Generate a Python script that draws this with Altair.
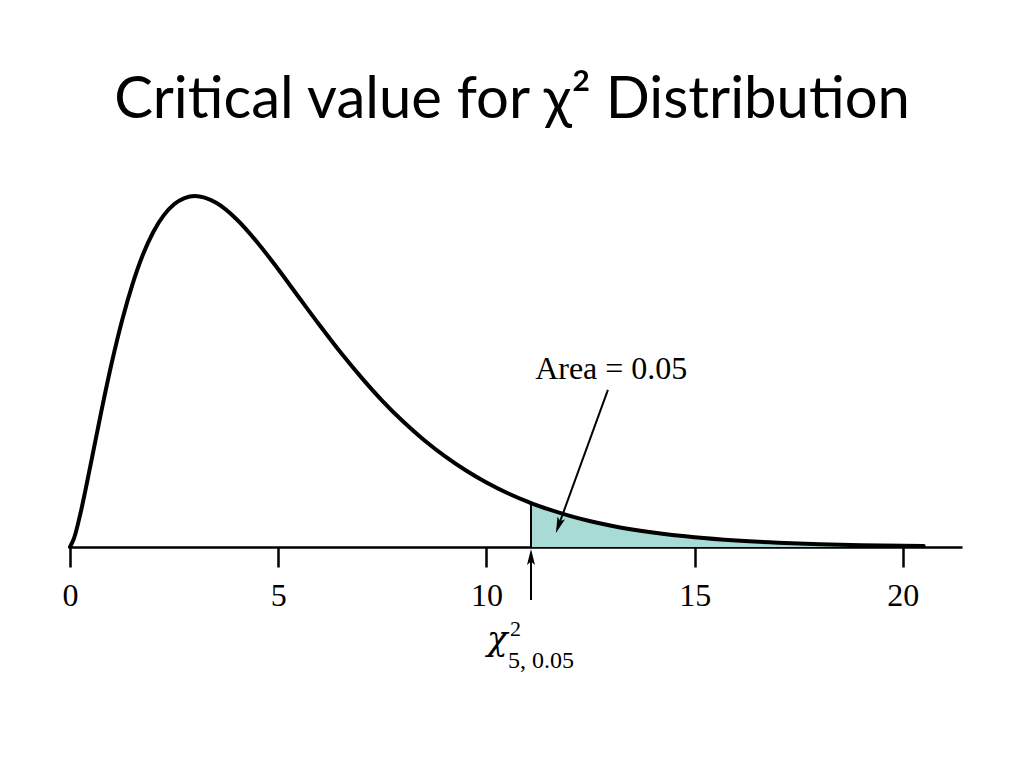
import altair as alt
import pandas as pd

# Chi-square (5 df) density
x_vals = [0, 0.1, 0.25, 0.5, 0.75, 1, 1.25, 1.5, 1.75, 2, 2.25, 2.5, 2.75, 3, 3.5, 4, 4.5,
          5, 5.5, 6, 6.5, 7, 7.5, 8, 8.5, 9, 9.5, 10, 10.5, 11, 11.07, 11.5, 12, 12.5,
          13, 13.5, 14, 15, 16, 17, 18, 19, 20, 20.5]
density = [0, 0.0040, 0.0147, 0.0366, 0.0594, 0.0807, 0.0995, 0.1154, 0.1284, 0.1384,
           0.1457, 0.1506, 0.1533, 0.1542, 0.1513, 0.1440, 0.1338,
           0.1220, 0.1096, 0.0973, 0.0854, 0.0744, 0.0642, 0.0551, 0.0470, 0.0399,
           0.0337, 0.0283, 0.0237, 0.0198, 0.0193, 0.0165, 0.0137, 0.01134,
           0.00937, 0.00772, 0.00635, 0.00427, 0.00285, 0.00189, 0.00125, 0.00082,
           0.00054, 0.00044]
tick_values = [0, 5, 10, 15, 20]
crit_value = 11.07
crit_density = 0.0193
title_text = "Critical value for χ² Distribution"
area_label = "Area = 0.05"

df = pd.DataFrame({"x": x_vals, "y": density})
tail = df[df["x"] >= crit_value]

W, H = 892, 397
xs = alt.Scale(domain=[0, 21.42], nice=False, zero=False)
ys = alt.Scale(domain=[0, 0.1744], nice=False, zero=False)
X = lambda f: alt.X(f, type="quantitative", scale=xs,
                    axis=alt.Axis(values=tick_values, title=None, grid=False,
                                  labelFont="Liberation Serif", labelFontSize=32,
                                  labelColor="black", labelPadding=13,
                                  tickColor="black", tickWidth=2.5, tickSize=20,
                                  domainColor="black", domainWidth=2.5,
                                  labelFlush=False, labelOverlap=False))
Y = lambda f: alt.Y(f, type="quantitative", scale=ys, axis=None)

area = alt.Chart(tail).mark_area(color="#a8dbd5", opacity=1).encode(
    x=X("x"), y=Y("y"))

crit_df = pd.DataFrame({"x": [crit_value], "y0": [0.0], "y1": [crit_density]})
crit_rule = alt.Chart(crit_df).mark_rule(color="black", strokeWidth=2).encode(
    x=X("x"), y=Y("y0"), y2="y1")

curve = alt.Chart(df).mark_line(color="black", strokeWidth=4, strokeCap="round",
                                interpolate="monotone").encode(x=X("x"), y=Y("y"))

arrow_path = "M0,-1L0.5,1L0,0.55L-0.5,1Z"

# arrow under the axis pointing to the critical value
below_rule = alt.Chart(crit_df).mark_rule(color="black", strokeWidth=2).encode(
    x=X("x"), y=alt.value(410), y2=alt.value(450))
below_head = alt.Chart(crit_df).mark_point(shape=arrow_path, filled=True, color="black",
                                           size=256, opacity=1).encode(
    x=X("x"), y=alt.value(407))

# arrow from the "Area" label into the shaded tail
arr_df = pd.DataFrame({"x": [12.917], "y": [0.0690], "x2": [11.733], "y2": [0.00945]})
area_rule = alt.Chart(arr_df).mark_rule(color="black", strokeWidth=2).encode(
    x=X("x"), y=Y("y"), x2="x2", y2="y2")
area_head = alt.Chart(arr_df).mark_point(shape=arrow_path, filled=True, color="black",
                                         size=256, opacity=1, angle=199.8).encode(
    x=X("x2"), y=Y("y2"))

lab_df = pd.DataFrame({"x": [11.17], "y": [0.0738], "t": [area_label]})
area_text = alt.Chart(lab_df).mark_text(font="Liberation Serif", fontSize=32, align="left",
                                        baseline="alphabetic", color="black").encode(
    x=X("x"), y=Y("y"), text="t")

chi_df = pd.DataFrame({"a": ["χ"], "b": ["2"], "c": ["5, 0.05"]})
chi_main = alt.Chart(chi_df).mark_text(font="DejaVu Serif", fontStyle="italic",
                                       fontSize=34, align="left", baseline="alphabetic",
                                       color="black").encode(
    x=alt.value(417), y=alt.value(500), text="a")
chi_sup = alt.Chart(chi_df).mark_text(font="Liberation Serif", fontSize=22, align="left",
                                      baseline="alphabetic", color="black").encode(
    x=alt.value(440), y=alt.value(486), text="b")
chi_sub = alt.Chart(chi_df).mark_text(font="Liberation Serif", fontSize=24, align="left",
                                      baseline="alphabetic", color="black").encode(
    x=alt.value(438), y=alt.value(518), text="c")

title_df = pd.DataFrame({"t": [title_text]})
title = alt.Chart(title_df).mark_text(font="Lato", fontSize=58, align="center",
                                      baseline="alphabetic", color="black").encode(
    x=alt.value(442), y=alt.value(-32), text="t")

chart = alt.layer(area, crit_rule, curve, below_rule, below_head, area_rule, area_head,
                  area_text, chi_main, chi_sup, chi_sub, title).properties(
    width=W, height=H,
    autosize=alt.AutoSizeParams(type="none"),
    padding={"left": 62, "top": 142, "right": 54, "bottom": 200},
).configure(background="white").configure_view(stroke="transparent", strokeWidth=0)

chart.save("out.html", embed_options={"renderer": "svg", "actions": False})
